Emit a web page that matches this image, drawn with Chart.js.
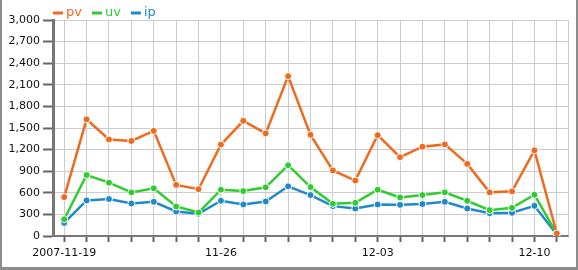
<!DOCTYPE html>
<html>
<head>
<meta charset="utf-8">
<script src="https://cdn.jsdelivr.net/npm/chart.js@4"></script>
<style>
  html, body { margin: 0; padding: 0; background: #fff; }
  #box {
    width: 574px; height: 267px;
    border-left: 2px solid #8c8c8c;
    border-right: 2px solid #8c8c8c;
    border-bottom: 3px solid #8c8c8c;
    background: #fff;
  }
</style>
</head>
<body>
<div id="box"><canvas id="chart" width="574" height="267"></canvas></div>
<script>
// 日期 (每天一个点)
const dates = [
  '2007-11-19', '2007-11-20', '2007-11-21', '2007-11-22', '2007-11-23', '2007-11-24', '2007-11-25',
  '2007-11-26', '2007-11-27', '2007-11-28', '2007-11-29', '2007-11-30', '2007-12-01', '2007-12-02',
  '2007-12-03', '2007-12-04', '2007-12-05', '2007-12-06', '2007-12-07', '2007-12-08', '2007-12-09',
  '2007-12-10', '2007-12-11'
];

// 三个系列
const pv = [540, 1620, 1340, 1320, 1460, 710, 650, 1270, 1600, 1425, 2220, 1405,
            910, 770, 1400, 1095, 1240, 1272, 1002, 606, 620, 1190, 35];
const uv = [233, 848, 741, 606, 662, 410, 326, 643, 624, 676, 983, 680,
            447, 461, 643, 536, 569, 606, 489, 359, 391, 573, 30];
const ip = [182, 494, 513, 452, 475, 340, 308, 489, 438, 480, 690, 569,
            415, 382, 438, 433, 443, 475, 382, 317, 322, 419, 20];

// y 轴刻度
const yMin = 0, yMax = 3000, yStep = 300;

// 每隔 7 天显示一个日期标签, 第一个显示完整年份
function xTick(i) {
  if (i % 7 !== 0) return '';
  return i === 0 ? dates[i] : dates[i].slice(5);
}

const FONT = 'DejaVu Sans';

// 左上角的图例
const topLegend = {
  id: 'topLegend',
  afterDraw(chart) {
    const ctx = chart.ctx;
    let x = chart.chartArea.left;
    const y = 13;
    ctx.save();
    ctx.font = '13px "' + FONT + '"';
    ctx.textBaseline = 'middle';
    chart.data.datasets.forEach(ds => {
      ctx.strokeStyle = ds.borderColor;
      ctx.lineWidth = 3;
      ctx.beginPath();
      ctx.moveTo(x, y);
      ctx.lineTo(x + 10, y);
      ctx.stroke();
      ctx.fillStyle = ds.borderColor;
      ctx.fillText(ds.label, x + 13, y);
      x += 13 + ctx.measureText(ds.label).width + 10;
    });
    ctx.restore();
  }
};

// 右侧的边线
const rightEdge = {
  id: 'rightEdge',
  beforeDatasetsDraw(chart) {
    const a = chart.chartArea, ctx = chart.ctx;
    ctx.save();
    ctx.strokeStyle = '#cccccc';
    ctx.lineWidth = 1;
    ctx.beginPath();
    ctx.moveTo(Math.round(a.right) + 0.5, a.top);
    ctx.lineTo(Math.round(a.right) + 0.5, a.bottom);
    ctx.stroke();
    ctx.restore();
  }
};

function series(label, data, color) {
  return {
    label: label,
    data: data,
    borderColor: color,
    backgroundColor: color,
    borderWidth: 2.5,
    tension: 0,
    pointRadius: 3.5,
    pointBorderColor: '#ffffff',
    pointBorderWidth: 1,
    pointBackgroundColor: color
  };
}

new Chart(document.getElementById('chart'), {
  type: 'line',
  data: {
    labels: dates,
    datasets: [
      series('pv', pv, '#f06a1e'),
      series('uv', uv, '#2fcc2f'),
      series('ip', ip, '#1f8acb')
    ]
  },
  options: {
    responsive: false,
    animation: false,
    layout: { padding: { top: 20, right: 8, left: 0, bottom: 0 } },
    plugins: {
      legend: { display: false },
      tooltip: { enabled: false }
    },
    scales: {
      x: {
        offset: true,
        afterFit(s) { s.height = 31; },
        grid: {
          color: '#cccccc',
          lineWidth: 1,
          tickColor: '#666666',
          tickLength: 6,
          tickWidth: 2
        },
        border: { color: '#777777', width: 2 },
        ticks: {
          autoSkip: false,
          maxRotation: 0,
          padding: 5,
          color: '#111111',
          font: { family: FONT, size: 11 },
          callback: (v, i) => xTick(i)
        }
      },
      y: {
        min: yMin,
        max: yMax,
        afterFit(s) { s.width = 51; },
        grid: {
          color: '#cccccc',
          lineWidth: 1,
          tickColor: '#666666',
          tickLength: 10,
          tickWidth: 2
        },
        border: { color: '#777777', width: 3 },
        ticks: {
          stepSize: yStep,
          padding: 3,
          color: '#111111',
          font: { family: FONT, size: 11 },
          callback: v => v.toLocaleString('en-US')
        }
      }
    }
  },
  plugins: [topLegend, rightEdge]
});
</script>
</body>
</html>
